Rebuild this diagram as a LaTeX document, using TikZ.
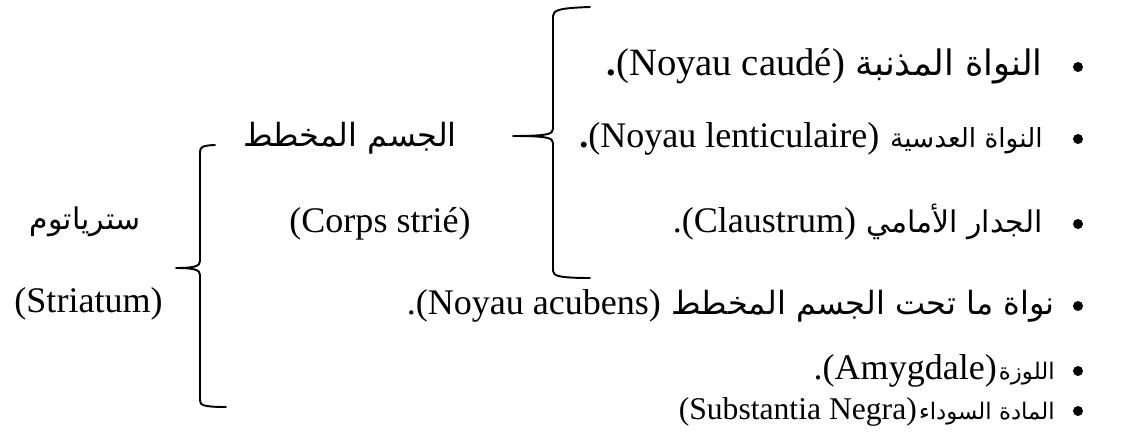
\documentclass[tikz,border=0pt]{standalone}
\usepackage{fontspec}
\setmainfont{Liberation Serif}
\newfontfamily\arabicfont[Script=Arabic]{DejaVu Sans}
\TeXXeTstate=1
\usepackage{tikz}
\usetikzlibrary{positioning}

\tikzset{
    latin/.style     = {inner sep=0pt, font=\fontsize{20.5}{25}\selectfont},
    latinbig/.style  = {inner sep=0pt, font=\fontsize{22}{27}\selectfont},
    latinsmall/.style= {inner sep=0pt, font=\fontsize{18}{22}\selectfont},
    arab/.style      = {inner sep=0pt, font=\arabicfont\fontsize{17}{20}\selectfont},
    arabbig/.style   = {inner sep=0pt, font=\arabicfont\fontsize{18.2}{22}\selectfont},
    arabsmall/.style = {inner sep=0pt, font=\arabicfont\fontsize{13}{16}\selectfont},
    dot/.style       = {circle, fill=black, inner sep=0pt, minimum size=0.20cm},
    brace/.style     = {line width=1.1pt, line join=round, line cap=round}
}

\begin{document}
\begin{tikzpicture}
            \useasboundingbox (0.00, 0.00) rectangle (22.48, 8.84);

            % striatum and corps strie
            \node[arab,    anchor=center] (striAr)  at ( 1.70,  4.40) {\beginR سترياتوم\endR};
            \node[latin,   anchor=base]   (striLa)  at ( 1.77,  2.58) {(Striatum)};
            \node[arabbig, anchor=base]   (corpsAr) at ( 7.00,  5.90) {\beginR الجسم المخطط\endR};
            \node[latin,   anchor=base]   (corpsLa) at ( 7.60,  4.18) {(Corps strié)};

            % the two braces
            \draw[brace] ( 4.30,  5.94) .. controls ( 4.05,  5.93) and ( 4.00,  5.90) .. ( 4.00,  5.80)
                         -- ( 4.00,  3.62) .. controls ( 4.00,  3.52) and ( 3.90,  3.48) .. ( 3.52,  3.48)
                         .. controls ( 3.90,  3.48) and ( 4.00,  3.44) .. ( 4.00,  3.34)
                         -- ( 4.00,  0.84) .. controls ( 4.00,  0.74) and ( 4.05,  0.70) .. ( 4.52,  0.70);
            \draw[brace] (11.80,  8.70) .. controls (11.20,  8.68) and (11.06,  8.64) .. (11.06,  8.52)
                         -- (11.06,  6.26) .. controls (11.06,  6.16) and (10.96,  6.12) .. (10.26,  6.12)
                         .. controls (10.96,  6.12) and (11.06,  6.08) .. (11.06,  5.98)
                         -- (11.06,  3.42) .. controls (11.06,  3.32) and (11.20,  3.28) .. (11.80,  3.28);

            % list of nuclei
            \node[dot] (b1) at (21.56,  7.50) {};
            \node[arab, font=\arabicfont\fontsize{20}{24}\selectfont, anchor=base east] (caudeAr) at (20.86,  7.32) {\beginR النواة المذنبة\endR};
            \node[latinbig, base left=0.20 of caudeAr] (caudeLa) {\textbf{.}(Noyau caudé)};

            \node[dot] (b2) at (21.56,  6.06) {};
            \node[arab, font=\arabicfont\fontsize{15}{18}\selectfont, anchor=base east] (lentiAr) at (20.86,  5.88) {\beginR النواة العدسية\endR};
            \node[latin, base left=0.20 of lentiAr] (lentiLa) {\textbf{.}(Noyau lenticulaire)};

            \node[dot] (b3) at (21.56,  4.36) {};
            \node[arab, anchor=base east] (claustAr) at (20.86,  4.18) {\beginR الجدار الأمامي\endR};
            \node[latin, base left=0.20 of claustAr] (claustLa) {.(Claustrum)};

            \node[dot] (b4) at (21.56,  2.72) {};
            \node[arabbig, anchor=base east] (acubAr) at (21.10,  2.54) {\beginR نواة ما تحت الجسم المخطط\endR};
            \node[latin, base left=0.20 of acubAr] (acubLa) {.(Noyau acubens)};

            \node[dot] (b5) at (21.56,  1.42) {};
            \node[arabsmall, anchor=base east] (amygAr) at (21.10,  1.24) {\beginR اللوزة\endR};
            \node[latin, base left=0.03 of amygAr] (amygLa) {.(Amygdale)};

            \node[dot] (b6) at (21.56,  0.62) {};
            \node[arabsmall, anchor=base east] (nigraAr) at (21.10,  0.44) {\beginR المادة السوداء\endR};
            \node[latinsmall, base left=0.03 of nigraAr] (nigraLa) {(Substantia Negra)};
        \end{tikzpicture}
\end{document}
